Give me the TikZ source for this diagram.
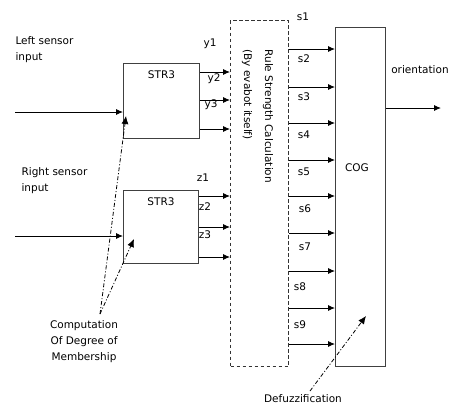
\documentclass[tikz,border=0pt]{standalone}
\usepackage{fontspec}
\setmainfont{DejaVu Sans}
\usetikzlibrary{positioning,arrows.meta}

\begin{document}
\begin{tikzpicture}[x=1pt,y=-1pt,font=\fontsize{10.5}{16}\selectfont]
    \tikzstyle{block}=[rectangle, draw=black!75, line width=1pt, inner sep=0pt, anchor=north west]
    \tikzstyle{rulebox}=[block, dash pattern=on 3.5pt off 2.5pt, draw=black!80]
    \tikzstyle{connect}=[-{Latex[length=7pt,width=6pt]}, line width=0.9pt]
    \tikzstyle{pointer}=[-{Latex[length=8pt,width=7pt]}, line width=0.8pt, dash pattern=on 4pt off 2pt on 1pt off 2pt]
    \tikzstyle{sig}=[inner sep=0pt]

      \useasboundingbox (0,0) rectangle (452,405);

      % blocks
      \node[block, minimum width=76pt, minimum height=75pt] (str1) at (123,63) {};
      \node[block, minimum width=75pt, minimum height=73pt] (str2) at (123,190) {};
      \node[rulebox, minimum width=58pt, minimum height=346pt] (rule) at (230,20) {};
      \node[block, minimum width=50pt, minimum height=339pt] (cog) at (335,27) {};
      \node[] (str1lab) [below=4pt of str1.north] {STR3};
      \node[] (str2lab) [below=4pt of str2.north] {STR3};
      \node[] (coglab) at (357,168) {COG};
      \node[rotate=-90, anchor=west] (rulelab) at (268,46) {Rule Strength Calculation};
      \node[rotate=-90, anchor=west] (evalab) at (247,46) {(By evabot itself)};

      % inputs
      \node[align=left, anchor=west] (left) at (12,50) {Left sensor\\input};
      \node[align=left, anchor=west] (right) at (18,181) {Right sensor\\input};
      \coordinate (lin) at (15,112);
      \coordinate (rin) at (15,236);
      \draw[connect] (lin) -- (lin -| str1.west);
      \draw[connect] (rin) -- (rin -| str2.west);

      % STR3 outputs
      \foreach \y in {72,100,129}
        \draw[connect] (str1.east |- 0,\y) -- (rule.west |- 0,\y);
      \foreach \y in {196,227,257}
        \draw[connect] (str2.east |- 0,\y) -- (rule.west |- 0,\y);
      \foreach \n/\x/\y in {y1/210/44, y2/214/79, y3/211/105, z1/203/178, z2/205/207, z3/205/235}
        \node[sig] (\n) at (\x,\y) {\n};

      % rule strengths
      \foreach \y in {49,87,123,160,196,233,271,308,344}
        \draw[connect] (rule.east |- 0,\y) -- (cog.west |- 0,\y);
      \foreach \n/\x/\y in {1/303/17, 2/304/59, 3/304/97, 4/304/135, 5/304/172, 6/305/209, 7/305/247, 8/300/287, 9/300/325}
        \node[sig] (s\n) at (\x,\y) {s\n};

      % output
      \node[] (orient) at (420,70) {orientation};
      \coordinate (out) at (441,108);
      \draw[connect] (out -| cog.east) -- (out);

      % annotations
      \node[align=center] (memb) at (84,342) {Computation\\Of Degree of\\Membership};
      \node[] (defuzz) at (303,399) {Defuzzification};
      \coordinate (cmp) at (100,314);
      \coordinate (m1) at (126,116);
      \coordinate (m2) at (134,239);
      \coordinate (dfz) at (310,391);
      \coordinate (d1) at (366,316);
      \draw[pointer] (cmp) -- (m1);
      \draw[pointer] (cmp) -- (m2);
      \draw[pointer] (dfz) -- (d1);
    \end{tikzpicture}
\end{document}
